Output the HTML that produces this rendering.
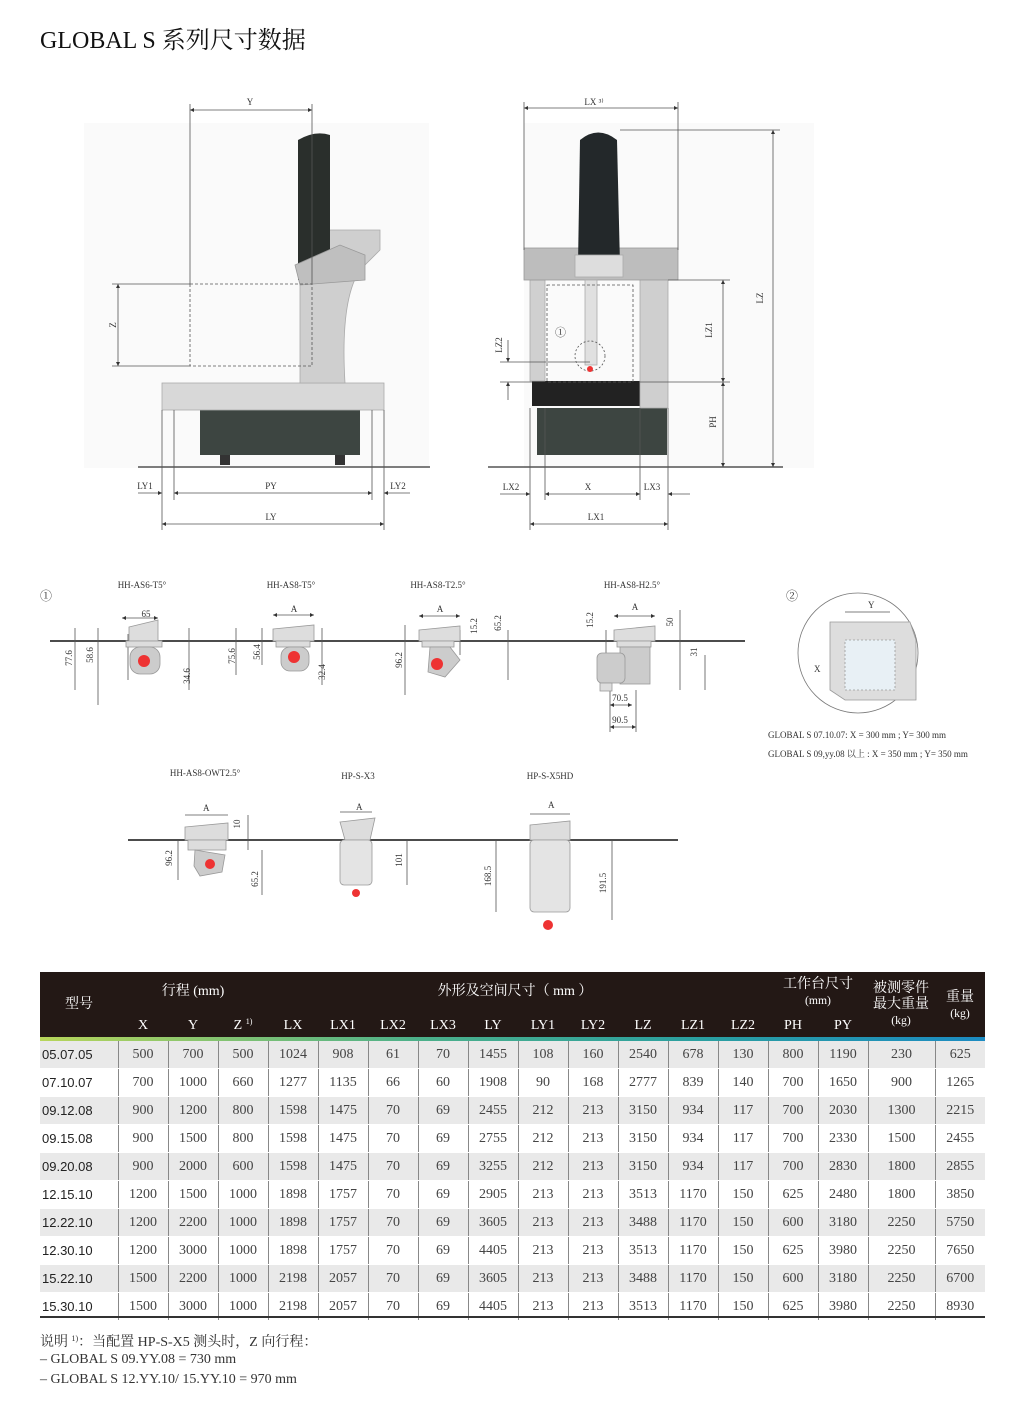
<!DOCTYPE html>
<html><head><meta charset="utf-8"><style>
body{margin:0;background:#fff;width:1024px;height:1422px;position:relative;overflow:hidden;font-family:"Liberation Serif","Noto Serif CJK SC",serif;}
svg{position:absolute;left:0;top:0}
svg text{font-family:"Liberation Serif","Noto Serif CJK SC",serif;fill:#333}
.t{position:absolute;left:40px;top:972px;width:945px;border-collapse:collapse;font-size:14px;color:#444}
.t td{height:27px;text-align:center;border-left:1px solid #888;padding:0;border-bottom:1px solid #fff;vertical-align:middle;line-height:27px}
.t td:first-child{border-left:none;font-family:"Liberation Sans",sans-serif;color:#222;text-align:left;padding-left:2px;font-size:13px}
.t tr:nth-child(odd) td{background:#e9e9e9}
.head{position:absolute;left:40px;top:972px;width:945px;height:65px;background:#231815;color:#fff;font-size:14px}
.head span{position:absolute;transform:translateX(-50%);white-space:nowrap;text-align:center;line-height:16px}
.grad{position:absolute;left:40px;top:1037px;width:945px;height:4px;background:linear-gradient(90deg,#b7d55a,#4cb08a 40%,#2a9fa0 70%,#1c8bc2)}
.note{position:absolute;left:40px;font-size:14px;color:#333}
</style></head><body>
<div style="position:absolute;left:40px;top:20px;font-size:24px;color:#111;font-family:'Liberation Serif','Noto Serif CJK SC',serif">GLOBAL S 系列尺寸数据</div>
<svg width="1024" height="960" viewBox="0 0 1024 960">
<defs><marker id="a" viewBox="0 0 6 6" refX="6" refY="3" markerWidth="5" markerHeight="5" orient="auto-start-reverse"><path d="M0,0L6,3L0,6z" fill="#333"/></marker></defs>
<g stroke="#555" stroke-width="0.8" fill="none">
<rect x="84" y="123" width="345" height="345" fill="#fafafa" stroke="none"/>
<line x1="138" y1="467" x2="430" y2="467" stroke="#333" stroke-width="1.2"/>
<rect x="200" y="410" width="160" height="45" fill="#3d4541" stroke="none"/>
<rect x="220" y="455" width="10" height="10" fill="#333" stroke="none"/><rect x="335" y="455" width="10" height="10" fill="#333" stroke="none"/>
<rect x="162" y="383" width="222" height="27" fill="#d8d8d8" stroke="#aaa"/>
<path d="M300,383 L345,383 Q340,300 360,270 L380,250 L380,230 L330,230 L300,280 Z" fill="#cfcfcf" stroke="#aaa"/>
<path d="M298,140 Q315,130 330,135 L330,280 L298,280 Z" fill="#2a2f2c" stroke="none"/>
<path d="M295,265 L340,245 L365,255 L365,280 L300,285 Z" fill="#bfbfbf" stroke="#999"/>
<rect x="190" y="284" width="122" height="82" stroke-dasharray="3,2"/>
<line x1="190" y1="110" x2="312" y2="110" marker-start="url(#a)" marker-end="url(#a)"/>
<line x1="190" y1="104" x2="190" y2="284"/><line x1="312" y1="104" x2="312" y2="284"/>
<line x1="118" y1="284" x2="118" y2="366" marker-start="url(#a)" marker-end="url(#a)"/>
<line x1="112" y1="284" x2="190" y2="284"/><line x1="112" y1="366" x2="190" y2="366"/>
<line x1="138" y1="493" x2="162" y2="493" marker-end="url(#a)"/>
<line x1="174" y1="493" x2="372" y2="493" marker-start="url(#a)" marker-end="url(#a)"/>
<line x1="384" y1="493" x2="410" y2="493" marker-start="url(#a)"/>
<line x1="162" y1="524" x2="384" y2="524" marker-start="url(#a)" marker-end="url(#a)"/>
<line x1="162" y1="410" x2="162" y2="530"/><line x1="174" y1="410" x2="174" y2="500"/><line x1="372" y1="410" x2="372" y2="500"/><line x1="384" y1="410" x2="384" y2="530"/>
<rect x="524" y="123" width="290" height="345" fill="#fafafa" stroke="none"/>
<line x1="488" y1="467" x2="783" y2="467" stroke="#333" stroke-width="1.2"/>
<rect x="537" y="408" width="130" height="47" fill="#3d4541" stroke="none"/>
<rect x="532" y="381" width="108" height="25" fill="#222" stroke="none"/>
<rect x="530" y="280" width="15" height="101" fill="#d0d0d0" stroke="#aaa"/>
<rect x="640" y="270" width="28" height="138" fill="#cfcfcf" stroke="#aaa"/>
<rect x="524" y="248" width="154" height="32" fill="#bdbdbd" stroke="#999"/>
<rect x="585" y="280" width="12" height="85" fill="#e0e0e0" stroke="#aaa"/>
<path d="M580,140 Q598,125 617,140 L620,265 L578,265 Z" fill="#23282a" stroke="none"/>
<rect x="575" y="255" width="48" height="22" fill="#ddd" stroke="#aaa"/>
<rect x="547" y="285" width="86" height="97" stroke-dasharray="3,2"/>
<circle cx="590" cy="356" r="15" stroke-dasharray="2,2"/>
<line x1="524" y1="108" x2="678" y2="108" marker-start="url(#a)" marker-end="url(#a)"/>
<line x1="524" y1="102" x2="524" y2="250"/><line x1="678" y1="102" x2="678" y2="250"/>
<line x1="773" y1="130" x2="773" y2="467" marker-start="url(#a)" marker-end="url(#a)"/>
<line x1="620" y1="130" x2="780" y2="130"/>
<line x1="723" y1="280" x2="723" y2="382" marker-start="url(#a)" marker-end="url(#a)"/>
<line x1="723" y1="382" x2="723" y2="467" marker-start="url(#a)" marker-end="url(#a)"/>
<line x1="668" y1="280" x2="730" y2="280"/><line x1="640" y1="382" x2="730" y2="382"/>
<line x1="508" y1="340" x2="508" y2="362" marker-end="url(#a)"/><line x1="508" y1="382" x2="508" y2="400" marker-start="url(#a)"/>
<line x1="500" y1="362" x2="590" y2="362"/><line x1="500" y1="382" x2="532" y2="382"/>
<line x1="500" y1="494" x2="530" y2="494" marker-end="url(#a)"/>
<line x1="545" y1="494" x2="640" y2="494" marker-start="url(#a)" marker-end="url(#a)"/>
<line x1="668" y1="494" x2="690" y2="494" marker-start="url(#a)"/>
<line x1="530" y1="524" x2="668" y2="524" marker-start="url(#a)" marker-end="url(#a)"/>
<line x1="530" y1="408" x2="530" y2="530"/><line x1="545" y1="408" x2="545" y2="500"/><line x1="640" y1="408" x2="640" y2="500"/><line x1="668" y1="408" x2="668" y2="530"/>
<line x1="50" y1="641" x2="745" y2="641" stroke="#111" stroke-width="1.5"/>
<line x1="128" y1="634" x2="128" y2="680"/><line x1="75" y1="628" x2="75" y2="690"/><line x1="98" y1="628" x2="98" y2="705"/><line x1="189" y1="628" x2="189" y2="690"/>
<line x1="122" y1="618" x2="158" y2="618" marker-start="url(#a)" marker-end="url(#a)"/>
<line x1="236" y1="628" x2="236" y2="675"/><line x1="262" y1="628" x2="262" y2="665"/><line x1="322" y1="628" x2="322" y2="685"/>
<line x1="273" y1="615" x2="314" y2="615" marker-start="url(#a)" marker-end="url(#a)"/>
<line x1="405" y1="625" x2="405" y2="695"/><line x1="460" y1="630" x2="460" y2="655"/><line x1="508" y1="630" x2="508" y2="680"/>
<line x1="419" y1="616" x2="460" y2="616" marker-start="url(#a)" marker-end="url(#a)"/>
<line x1="606" y1="630" x2="606" y2="660"/><line x1="680" y1="610" x2="680" y2="690"/><line x1="705" y1="655" x2="705" y2="690"/>
<line x1="614" y1="616" x2="655" y2="616" marker-start="url(#a)" marker-end="url(#a)"/>
<line x1="610" y1="705" x2="632" y2="705" marker-start="url(#a)" marker-end="url(#a)"/>
<line x1="610" y1="727" x2="636" y2="727" marker-start="url(#a)" marker-end="url(#a)"/>
<line x1="610" y1="690" x2="610" y2="732"/><line x1="636" y1="690" x2="636" y2="732"/>
</g>
<g fill="#ddd" stroke="#999" stroke-width="0.8">
<path d="M129,627 L158,620 L158,641 L129,641Z"/><rect x="126" y="641" width="36" height="6"/><rect x="130" y="647" width="30" height="27" rx="10" fill="#ccc"/>
<path d="M273,629 L314,625 L314,641 L273,641Z"/><rect x="276" y="641" width="34" height="6"/><rect x="281" y="647" width="28" height="24" rx="9" fill="#ccc"/>
<path d="M419,630 L460,626 L460,641 L419,641Z"/><rect x="422" y="641" width="32" height="6"/><path d="M430,647 L450,647 L460,660 L445,677 L428,672Z" fill="#ccc"/>
<path d="M614,630 L655,626 L655,641 L614,641Z"/><rect x="617" y="641" width="34" height="6"/><rect x="620" y="647" width="30" height="37" fill="#ccc"/><rect x="597" y="653" width="28" height="30" rx="5" fill="#ccc"/><rect x="600" y="683" width="12" height="8"/>
</g>
<g fill="#e33"><circle cx="144" cy="661" r="6"/><circle cx="294" cy="657" r="6"/><circle cx="437" cy="664" r="6"/><circle cx="590" cy="369" r="3"/></g>
<g font-size="9" text-anchor="middle">
<text x="142" y="588">HH-AS6-T5°</text><text x="291" y="588">HH-AS8-T5°</text><text x="438" y="588">HH-AS8-T2.5°</text><text x="632" y="588">HH-AS8-H2.5°</text>
<text x="146" y="617">65</text><text x="294" y="612">A</text><text x="440" y="612">A</text><text x="635" y="610">A</text>
<text x="620" y="701">70.5</text><text x="620" y="723">90.5</text>
<text x="205" y="776">HH-AS8-OWT2.5°</text><text x="358" y="779">HP-S-X3</text><text x="550" y="779">HP-S-X5HD</text>
<text x="250" y="105">Y</text><text x="594" y="105">LX ³⁾</text>
<text x="145" y="489">LY1</text><text x="271" y="489">PY</text><text x="398" y="489">LY2</text><text x="271" y="520">LY</text>
<text x="511" y="490">LX2</text><text x="588" y="490">X</text><text x="652" y="490">LX3</text><text x="596" y="520">LX1</text>
</g>
<g font-size="9" text-anchor="middle">
<text transform="translate(116,325) rotate(-90)">Z</text><text transform="translate(763,298) rotate(-90)">LZ</text><text transform="translate(712,330) rotate(-90)">LZ1</text><text transform="translate(716,422) rotate(-90)">PH</text><text transform="translate(502,345) rotate(-90)">LZ2</text>
<text transform="translate(72,658) rotate(-90)">77.6</text><text transform="translate(93,655) rotate(-90)">58.6</text><text transform="translate(190,676) rotate(-90)">34.6</text>
<text transform="translate(235,656) rotate(-90)">75.6</text><text transform="translate(260,652) rotate(-90)">56.4</text><text transform="translate(325,672) rotate(-90)">32.4</text>
<text transform="translate(402,660) rotate(-90)">96.2</text><text transform="translate(477,626) rotate(-90)">15.2</text><text transform="translate(501,623) rotate(-90)">65.2</text>
<text transform="translate(593,620) rotate(-90)">15.2</text><text transform="translate(673,622) rotate(-90)">50</text><text transform="translate(697,652) rotate(-90)">31</text>
<text transform="translate(172,858) rotate(-90)">96.2</text><text transform="translate(240,824) rotate(-90)">10</text><text transform="translate(258,879) rotate(-90)">65.2</text>
<text transform="translate(402,860) rotate(-90)">101</text><text transform="translate(491,876) rotate(-90)">168.5</text><text transform="translate(606,883) rotate(-90)">191.5</text>
</g>
<text x="40" y="600" font-size="12">①</text><text x="786" y="600" font-size="12">②</text><text x="555" y="336" font-size="11">①</text>
<circle cx="858" cy="653" r="60" fill="none" stroke="#777" stroke-width="0.8"/>
<path d="M830,622 L910,622 L916,640 L916,700 L845,700 L830,690Z" fill="#ddd" stroke="#999" stroke-width="0.8"/>
<path d="M845,640 L895,640 L895,690 L845,690Z" fill="#e8f0f5" stroke="#999" stroke-dasharray="2,2" stroke-width="0.8"/>
<line x1="845" y1="612" x2="890" y2="612" stroke="#555" stroke-width="0.8"/>
<text x="868" y="608" font-size="9">Y</text><text x="814" y="672" font-size="9">X</text>
<text x="768" y="738" font-size="9">GLOBAL S 07.10.07: X = 300 mm ; Y= 300 mm</text>
<text x="768" y="757" font-size="9">GLOBAL S 09,yy.08 以上 : X = 350 mm ; Y= 350 mm</text>
<line x1="128" y1="840" x2="678" y2="840" stroke="#111" stroke-width="1.5"/>
<g fill="#ddd" stroke="#999" stroke-width="0.8">
<path d="M185,827 L228,823 L228,840 L185,840Z"/><rect x="188" y="840" width="38" height="10"/><path d="M195,850 L225,855 L222,872 L200,876 L194,866Z" fill="#ccc"/>
<path d="M340,822 L375,818 L370,840 L345,840Z"/><rect x="340" y="840" width="32" height="45" rx="4" fill="#e4e4e4"/>
<path d="M530,825 L570,821 L570,840 L530,840Z"/><rect x="530" y="840" width="40" height="72" rx="4" fill="#e4e4e4"/>
</g>
<g fill="#e33"><circle cx="210" cy="864" r="5"/><circle cx="356" cy="893" r="4"/><circle cx="548" cy="925" r="5"/></g>
<g stroke="#555" stroke-width="0.8">
<line x1="185" y1="815" x2="228" y2="815"/><line x1="340" y1="812" x2="372" y2="812"/><line x1="530" y1="814" x2="570" y2="814"/>
<line x1="178" y1="840" x2="178" y2="880"/><line x1="248" y1="815" x2="248" y2="850"/><line x1="262" y1="850" x2="262" y2="895"/>
<line x1="407" y1="840" x2="407" y2="885"/><line x1="496" y1="840" x2="496" y2="912"/><line x1="612" y1="840" x2="612" y2="920"/>
</g>
<g font-size="9"><text x="203" y="811">A</text><text x="356" y="810">A</text><text x="548" y="808">A</text></g>
</svg>
<div class="head">
<span style="left:39px;top:25px">型号</span>
<span style="left:153px;top:12px">行程 (mm)</span>
<span style="left:475px;top:12px">外形及空间尺寸（ mm ）</span>
<span style="left:778px;top:5px">工作台尺寸<br><small>(mm)</small></span>
<span style="left:861px;top:9px">被测零件<br>最大重量<br><small>(kg)</small></span>
<span style="left:920px;top:18px">重量<br><small>(kg)</small></span>
<span style="left:103px;top:46px">X</span><span style="left:153px;top:46px">Y</span><span style="left:203px;top:46px">Z <span style="font-size:8px;position:relative;top:-5px">1)</span></span><span style="left:253px;top:46px">LX</span><span style="left:303px;top:46px">LX1</span><span style="left:353px;top:46px">LX2</span><span style="left:403px;top:46px">LX3</span><span style="left:453px;top:46px">LY</span><span style="left:503px;top:46px">LY1</span><span style="left:553px;top:46px">LY2</span><span style="left:603px;top:46px">LZ</span><span style="left:653px;top:46px">LZ1</span><span style="left:703px;top:46px">LZ2</span><span style="left:753px;top:46px">PH</span><span style="left:803px;top:46px">PY</span>
</div>
<div class="grad"></div>
<table class="t" style="top:1041px">
<colgroup><col style="width:78px"><col span="15" style="width:50px"><col style="width:67px"><col style="width:50px"></colgroup>
<tr><td>05.07.05</td><td>500</td><td>700</td><td>500</td><td>1024</td><td>908</td><td>61</td><td>70</td><td>1455</td><td>108</td><td>160</td><td>2540</td><td>678</td><td>130</td><td>800</td><td>1190</td><td>230</td><td>625</td></tr>
<tr><td>07.10.07</td><td>700</td><td>1000</td><td>660</td><td>1277</td><td>1135</td><td>66</td><td>60</td><td>1908</td><td>90</td><td>168</td><td>2777</td><td>839</td><td>140</td><td>700</td><td>1650</td><td>900</td><td>1265</td></tr>
<tr><td>09.12.08</td><td>900</td><td>1200</td><td>800</td><td>1598</td><td>1475</td><td>70</td><td>69</td><td>2455</td><td>212</td><td>213</td><td>3150</td><td>934</td><td>117</td><td>700</td><td>2030</td><td>1300</td><td>2215</td></tr>
<tr><td>09.15.08</td><td>900</td><td>1500</td><td>800</td><td>1598</td><td>1475</td><td>70</td><td>69</td><td>2755</td><td>212</td><td>213</td><td>3150</td><td>934</td><td>117</td><td>700</td><td>2330</td><td>1500</td><td>2455</td></tr>
<tr><td>09.20.08</td><td>900</td><td>2000</td><td>600</td><td>1598</td><td>1475</td><td>70</td><td>69</td><td>3255</td><td>212</td><td>213</td><td>3150</td><td>934</td><td>117</td><td>700</td><td>2830</td><td>1800</td><td>2855</td></tr>
<tr><td>12.15.10</td><td>1200</td><td>1500</td><td>1000</td><td>1898</td><td>1757</td><td>70</td><td>69</td><td>2905</td><td>213</td><td>213</td><td>3513</td><td>1170</td><td>150</td><td>625</td><td>2480</td><td>1800</td><td>3850</td></tr>
<tr><td>12.22.10</td><td>1200</td><td>2200</td><td>1000</td><td>1898</td><td>1757</td><td>70</td><td>69</td><td>3605</td><td>213</td><td>213</td><td>3488</td><td>1170</td><td>150</td><td>600</td><td>3180</td><td>2250</td><td>5750</td></tr>
<tr><td>12.30.10</td><td>1200</td><td>3000</td><td>1000</td><td>1898</td><td>1757</td><td>70</td><td>69</td><td>4405</td><td>213</td><td>213</td><td>3513</td><td>1170</td><td>150</td><td>625</td><td>3980</td><td>2250</td><td>7650</td></tr>
<tr><td>15.22.10</td><td>1500</td><td>2200</td><td>1000</td><td>2198</td><td>2057</td><td>70</td><td>69</td><td>3605</td><td>213</td><td>213</td><td>3488</td><td>1170</td><td>150</td><td>600</td><td>3180</td><td>2250</td><td>6700</td></tr>
<tr><td>15.30.10</td><td>1500</td><td>3000</td><td>1000</td><td>2198</td><td>2057</td><td>70</td><td>69</td><td>4405</td><td>213</td><td>213</td><td>3513</td><td>1170</td><td>150</td><td>625</td><td>3980</td><td>2250</td><td>8930</td></tr>
</table>
<div style="position:absolute;left:40px;top:1316px;width:945px;height:2px;background:#333"></div>
<div class="note" style="top:1331px">说明 <span style="font-size:8px;position:relative;top:-5px">1)</span>：当配置 HP-S-X5 测头时，Z 向行程：</div>
<div class="note" style="top:1352px">– GLOBAL S 09.YY.08 = 730 mm</div>
<div class="note" style="top:1372px">– GLOBAL S 12.YY.10/ 15.YY.10 = 970 mm</div>
</body></html>
